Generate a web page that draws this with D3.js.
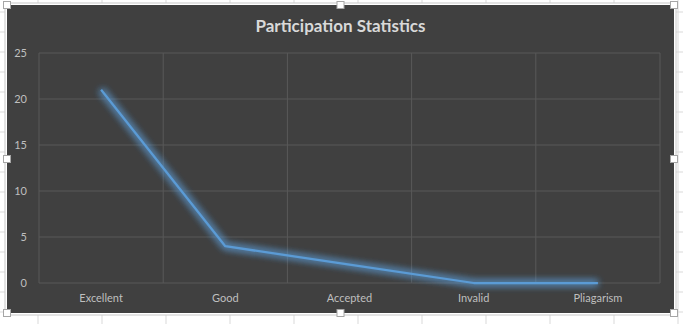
<!DOCTYPE html>
<html><head><meta charset="utf-8">
<script src="https://cdn.jsdelivr.net/npm/d3@7"></script>
<style>html,body{margin:0;padding:0;background:#fff;overflow:hidden}</style>
</head><body><svg id="c" width="683" height="324"></svg>
<script>
const title = "Participation Statistics";
const categories = ["Excellent", "Good", "Accepted", "Invalid", "Pliagarism"];
const values = [21, 4, 2, 0, 0];
const yTicks = [0, 5, 10, 15, 20, 25];

const W = 683, H = 324;
const svg = d3.select("#c");
const font = "Lato, 'Open Sans', sans-serif";

// spreadsheet background grid
const bg = svg.append("g");
for (let x = 38; x < W; x += 64) bg.append("line").attr("x1", x).attr("x2", x).attr("y1", 0).attr("y2", H).attr("stroke", "#d9d9d9");
for (let y = 12; y < H; y += 20) bg.append("line").attr("x1", 0).attr("x2", W).attr("y1", y).attr("y2", y).attr("stroke", "#d9d9d9");

// chart frame (selected)
const cx0 = 7, cy0 = 5, cx1 = 674, cy1 = 313;
svg.append("rect").attr("x", cx0 - 2).attr("y", cy0 - 2).attr("width", cx1 - cx0 + 4).attr("height", cy1 - cy0 + 4)
  .attr("fill", "#fff").attr("stroke", "#c8c8c8").attr("stroke-width", 1);
svg.append("rect").attr("x", cx0).attr("y", cy0).attr("width", cx1 - cx0).attr("height", cy1 - cy0)
  .attr("fill", "#404040");

const defs = svg.append("defs");
const f = defs.append("filter").attr("id", "glow").attr("x", "-20%").attr("y", "-20%").attr("width", "140%").attr("height", "140%");
f.append("feGaussianBlur").attr("in", "SourceGraphic").attr("stdDeviation", 3.5).attr("result", "b");
const fm = f.append("feMerge");
fm.append("feMergeNode").attr("in", "b");
fm.append("feMergeNode").attr("in", "b");

const pl = 39, pr = 660, pt = 53, pb = 283;
const x = d3.scaleBand().domain(categories).range([pl, pr]);
const y = d3.scaleLinear().domain([0, 25]).range([pb, pt]);

const g = svg.append("g");
// horizontal gridlines
g.selectAll(".hg").data(yTicks).join("line")
  .attr("x1", pl).attr("x2", pr).attr("y1", d => y(d)).attr("y2", d => y(d))
  .attr("stroke", "#595959").attr("stroke-width", 1);
// vertical gridlines
const vx = categories.map(c => x(c)).concat([pr]);
g.selectAll(".vg").data(vx).join("line")
  .attr("x1", d => d).attr("x2", d => d).attr("y1", pt).attr("y2", pb)
  .attr("stroke", "#595959").attr("stroke-width", 1);

// y labels
g.selectAll(".yl").data(yTicks).join("text")
  .attr("x", 27).attr("y", d => y(d)).attr("dy", "0.35em").attr("text-anchor", "end")
  .attr("fill", "#bfbfbf").attr("font-family", font).attr("font-size", 11).text(d => d);
// x labels
g.selectAll(".xl").data(categories).join("text")
  .attr("x", d => x(d) + x.bandwidth() / 2).attr("y", 298).attr("dy", "0.35em").attr("text-anchor", "middle")
  .attr("fill", "#bfbfbf").attr("font-family", font).attr("font-size", 11).text(d => d);

const line = d3.line().x((d, i) => x(categories[i]) + x.bandwidth() / 2).y(d => y(d));
g.append("path").datum(values).attr("d", line).attr("fill", "none")
  .attr("stroke", "#5b9bd5").attr("stroke-width", 6).attr("stroke-opacity", 0.55)
  .attr("stroke-linejoin", "round").attr("filter", "url(#glow)");
g.append("path").datum(values).attr("d", line).attr("fill", "none")
  .attr("stroke", "#5b9bd5").attr("stroke-width", 2.25).attr("stroke-linejoin", "round");

svg.append("text").attr("x", (cx0 + cx1) / 2).attr("y", 26).attr("dy", "0.35em").attr("text-anchor", "middle")
  .attr("fill", "#d9d9d9").attr("font-family", font).attr("font-weight", "bold").attr("font-size", 17).text(title);

// selection handles
const handles = [[cx0, cy0], [(cx0 + cx1) / 2, cy0], [cx1, cy0], [cx0, (cy0 + cy1) / 2], [cx1, (cy0 + cy1) / 2], [cx0, cy1], [(cx0 + cx1) / 2, cy1], [cx1, cy1]];
svg.selectAll(".h").data(handles).join("rect")
  .attr("x", d => d[0] - 3.5).attr("y", d => d[1] - 3.5).attr("width", 7).attr("height", 7)
  .attr("fill", "#fff").attr("stroke", "#a6a6a6").attr("stroke-width", 1);
</script></body></html>
